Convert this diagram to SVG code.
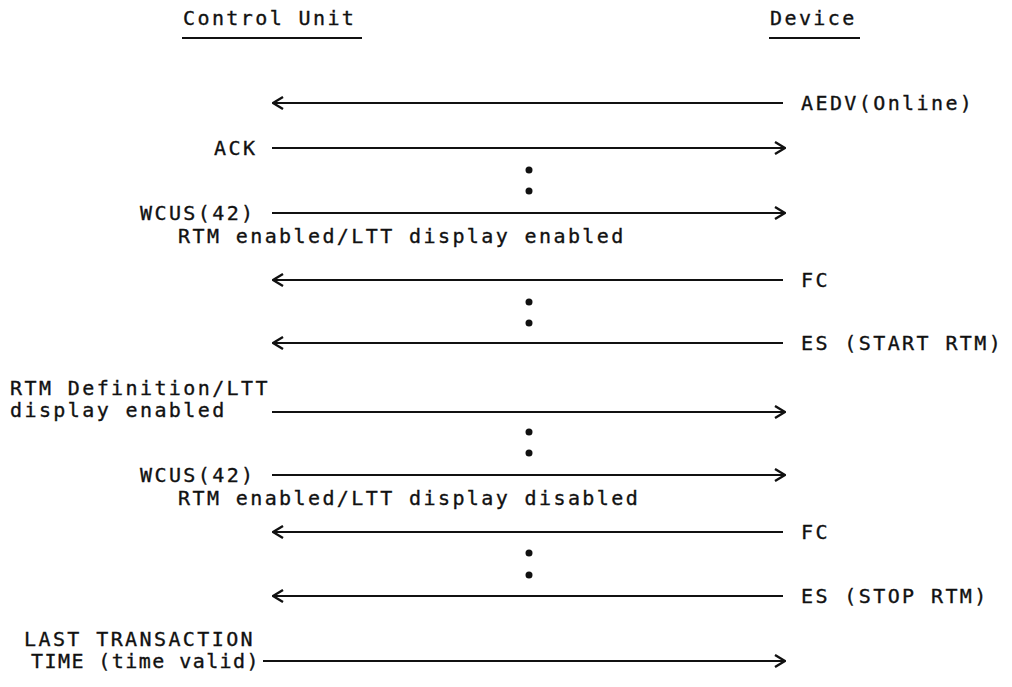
<svg xmlns="http://www.w3.org/2000/svg" width="1012" height="687" viewBox="0 0 1012 687">
<style>
text{font-family:"DejaVu Sans Mono","Liberation Mono",monospace;font-size:20px;letter-spacing:2.4px;fill:#111;stroke:#111;stroke-width:0.35}
.ln{stroke:#111;stroke-width:2.2;fill:none}
.ul{stroke:#111;stroke-width:2;fill:none}
.dot{fill:#111}
</style>
<defs>
<marker id="chev" viewBox="0 0 12 14" refX="11" refY="7" markerWidth="12" markerHeight="14" orient="auto" markerUnits="userSpaceOnUse">
<path d="M1,1 L11,7 L1,13" fill="none" stroke="#111" stroke-width="2.4"/>
</marker>
</defs>
<rect width="1012" height="687" fill="#fff"/>
<g id="control-unit">
<text x="183" y="25">Control Unit</text>
<line class="ul" x1="182" y1="38" x2="362" y2="38"/>
</g>
<g id="device">
<text x="770" y="25">Device</text>
<line class="ul" x1="769" y1="38" x2="860" y2="38"/>
</g>
<g id="msg-aedv"><text x="801" y="110">AEDV(Online)</text></g>
<g id="msg-ack"><text x="214" y="155">ACK</text></g>
<g id="msg-wcus1">
<text x="140" y="220">WCUS(42)</text>
<text x="178" y="243">RTM enabled/LTT display enabled</text>
</g>
<g id="msg-fc1"><text x="801" y="287">FC</text></g>
<g id="msg-es-start"><text x="801" y="350">ES (START RTM)</text></g>
<g id="msg-rtmdef">
<text x="10" y="395">RTM Definition/LTT</text>
<text x="10" y="417">display enabled</text>
</g>
<g id="msg-wcus2">
<text x="140" y="482">WCUS(42)</text>
<text x="178" y="505">RTM enabled/LTT display disabled</text>
</g>
<g id="msg-fc2"><text x="801" y="539">FC</text></g>
<g id="msg-es-stop"><text x="801" y="603">ES (STOP RTM)</text></g>
<g id="msg-ltt">
<text x="24" y="646">LAST TRANSACTION</text>
<text x="31" y="668" textLength="230" lengthAdjust="spacing">TIME (time valid)</text>
</g>
<g id="ellipses">
<circle class="dot" cx="529" cy="170" r="3.5"/><circle class="dot" cx="529" cy="191" r="3.5"/>
<circle class="dot" cx="529" cy="302" r="3.5"/><circle class="dot" cx="529" cy="323" r="3.5"/>
<circle class="dot" cx="529" cy="432" r="3.5"/><circle class="dot" cx="529" cy="453" r="3.5"/>
<circle class="dot" cx="529" cy="553" r="3.5"/><circle class="dot" cx="529" cy="575" r="3.5"/>
</g>
<g id="connectors">
<line class="ln" x1="783" y1="103" x2="273" y2="103" marker-end="url(#chev)"/>
<line class="ln" x1="272" y1="148" x2="785" y2="148" marker-end="url(#chev)"/>
<line class="ln" x1="272" y1="213" x2="785" y2="213" marker-end="url(#chev)"/>
<line class="ln" x1="783" y1="280" x2="273" y2="280" marker-end="url(#chev)"/>
<line class="ln" x1="783" y1="343" x2="273" y2="343" marker-end="url(#chev)"/>
<line class="ln" x1="272" y1="412" x2="785" y2="412" marker-end="url(#chev)"/>
<line class="ln" x1="272" y1="475" x2="785" y2="475" marker-end="url(#chev)"/>
<line class="ln" x1="783" y1="532" x2="273" y2="532" marker-end="url(#chev)"/>
<line class="ln" x1="783" y1="596" x2="273" y2="596" marker-end="url(#chev)"/>
<line class="ln" x1="263" y1="661" x2="785" y2="661" marker-end="url(#chev)"/>
</g>
</svg>
